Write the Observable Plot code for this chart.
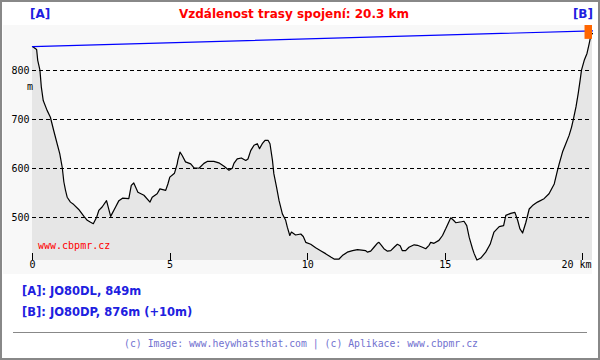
<!DOCTYPE html>
<html>
<head>
<meta charset="utf-8">
<script src="https://cdn.jsdelivr.net/npm/d3@7"></script>
<script src="https://cdn.jsdelivr.net/npm/@observablehq/plot@0.6"></script>
<style>
  body { margin: 0; background: #fff; }
  #wrap { position: relative; width: 600px; height: 360px; overflow: hidden; background: #fff; }
  .t { position: absolute; white-space: nowrap; line-height: 16px; }
  .b { font-family: "DejaVu Sans", sans-serif; font-weight: bold; }
</style>
</head>
<body>
<div id="wrap">
  <div style="position:absolute;left:3px;top:25px;width:589px;height:249px;background:#f8f8f8"></div>
  <div id="chart" style="position:absolute;left:0;top:0"></div>
  <div id="ta" class="t b" style="left:30px;top:6px;font-size:12px;color:#2020e0"></div>
  <div id="title" class="t b" style="left:294px;top:6px;transform:translateX(-50%);font-size:12px;color:#ff0000"></div>
  <div id="tb" class="t b" style="right:7px;top:6px;font-size:12px;color:#2020e0"></div>
  <div id="infoA" class="t b" style="left:22px;top:283px;font-size:11.5px;color:#2020e0"></div>
  <div id="infoB" class="t b" style="left:22px;top:304px;font-size:11.5px;color:#2020e0"></div>
  <div style="position:absolute;left:13px;top:332px;width:574px;height:1px;background:#888"></div>
  <div id="foot" class="t" style="left:301px;top:336px;transform:translateX(-50%);font-family:'DejaVu Sans Mono',monospace;font-size:9.8px;color:#7272d0"></div>
  <div style="position:absolute;left:0;top:0;width:600px;height:360px;box-sizing:border-box;border:2px solid #888"></div>
</div>
<script>
const titleText = "Vzdálenost trasy spojení: 20.3 km";
const labelA = "[A]";
const labelB = "[B]";
const infoA = "[A]: JO80DL, 849m";
const infoB = "[B]: JO80DP, 876m (+10m)";
const footer = "(c) Image: www.heywhatsthat.com | (c) Aplikace: www.cbpmr.cz";
const watermark = "www.cbpmr.cz";

const xTicks = [0, 5, 10, 15, 20];
const xUnit = "km";
const yTicks = [500, 600, 700, 800];
const yUnit = "m";
const xDomain = [0, 20.35];
const yDomain = [413, 892];

const dist = [0, 0.15, 0.19, 0.27, 0.32, 0.39, 0.53, 0.65, 0.77, 0.90,
  0.99, 1.08, 1.14, 1.20, 1.26, 1.38, 1.50, 1.68, 1.87, 1.99,
  2.11, 2.21, 2.33, 2.41, 2.53, 2.69, 2.84, 3.02, 3.14, 3.27,
  3.50, 3.59, 3.68, 3.83, 4.05, 4.27, 4.35, 4.53, 4.63, 4.84,
  4.92, 4.99, 5.16, 5.26, 5.28, 5.36, 5.44, 5.56, 5.75, 5.87,
  6.05, 6.23, 6.35, 6.59, 6.77, 6.96, 7.14, 7.26, 7.32, 7.44,
  7.59, 7.75, 7.83, 7.93, 8.05, 8.17, 8.25, 8.35, 8.45, 8.56,
  8.63, 8.72, 8.77, 8.87, 8.96, 9.08, 9.20, 9.26, 9.35, 9.41,
  9.56, 9.75, 9.84, 9.93, 10.11, 10.29, 10.47, 10.65, 10.84, 10.96,
  11.14, 11.26, 11.44, 11.63, 11.81, 12.11, 12.17, 12.29, 12.41, 12.53,
  12.59, 12.68, 12.77, 12.90, 13.02, 13.16, 13.26, 13.36, 13.44, 13.56,
  13.68, 13.87, 13.99, 14.17, 14.29, 14.41, 14.47, 14.59, 14.77, 14.90,
  15.02, 15.10, 15.20, 15.30, 15.38, 15.59, 15.68, 15.78, 15.87, 15.99,
  16.05, 16.15, 16.29, 16.47, 16.63, 16.77, 16.96, 17.12, 17.20, 17.38,
  17.53, 17.63, 17.71, 17.81, 17.93, 18.05, 18.17, 18.35, 18.59, 18.77,
  18.96, 19.08, 19.14, 19.26, 19.38, 19.50, 19.59, 19.66, 19.75, 19.83,
  19.90, 19.95, 20.05, 20.15, 20.23, 20.29, 20.35];
const elev = [849, 843, 821, 801, 767, 739, 719, 705, 678, 650,
  631, 603, 573, 556, 542, 532, 527, 517, 503, 495,
  491, 488, 501, 515, 522, 535, 503, 522, 535, 540,
  539, 566, 571, 552, 546, 532, 542, 549, 559, 556,
  569, 583, 591, 610, 617, 634, 627, 614, 610, 602,
  601, 611, 615, 615, 612, 605, 597, 601, 611, 620,
  622, 617, 620, 637, 648, 651, 641, 651, 658, 658,
  651, 617, 590, 562, 535, 508, 495, 481, 464, 471,
  465, 467, 462, 450, 446, 439, 433, 427, 420, 416,
  416, 423, 430, 433, 435, 433, 430, 432, 440, 448,
  450, 444, 437, 432, 433, 441, 446, 443, 433, 433,
  440, 445, 444, 440, 437, 444, 450, 448, 454, 464,
  478, 488, 500, 495, 490, 492, 493, 484, 460, 437,
  427, 414, 418, 430, 446, 471, 482, 484, 505, 509,
  511, 495, 478, 469, 491, 518, 525, 532, 539, 549,
  569, 597, 610, 634, 651, 668, 685, 702, 726, 753,
  780, 801, 821, 835, 855, 872, 876];

const losDist = [0, 20.35];
const losElev = [849, 881];

const profile = dist.map((d, i) => ({d, e: elev[i]}));
const los = losDist.map((d, i) => ({d, e: losElev[i]}));
const endB = [los[los.length - 1]];

const mono = "DejaVu Sans Mono, monospace";

const chart = Plot.plot({
  width: 600,
  height: 360,
  marginLeft: 32,
  marginRight: 8,
  marginTop: 25,
  marginBottom: 100,
  x: {domain: xDomain, axis: null},
  y: {domain: yDomain, axis: null},
  style: {background: "transparent", fontFamily: mono, fontSize: "10px", overflow: "visible"},
  marks: [
    Plot.areaY(profile, {x: "d", y1: yDomain[0], y2: "e", fill: "#e6e6e6"}),
    Plot.ruleY(yTicks, {stroke: "#000", strokeWidth: 1, strokeDasharray: "4,3", shapeRendering: "crispEdges"}),
    Plot.lineY(profile, {x: "d", y: "e", stroke: "#000", strokeWidth: 1.2}),
    Plot.line(los, {x: "d", y: "e", stroke: "#0000ff", strokeWidth: 1.2}),
    Plot.dot(endB, {x: "d", y: "e", symbol: "square", r: 9, fill: "#ff6600", clip: true}),
    Plot.ruleX(xTicks, {stroke: "#000", strokeWidth: 1, insetTop: 228, shapeRendering: "crispEdges"}),
    Plot.text(xTicks.slice(0, -1), {x: d => d, text: d => String(d), frameAnchor: "bottom", dy: 7, fill: "#000", fontFamily: mono, fontSize: 10}),
    Plot.text([xTicks[xTicks.length - 1] + " " + xUnit], {x: xDomain[1], text: d => d, frameAnchor: "bottom", dy: 7, dx: -1, textAnchor: "end", fill: "#000", fontFamily: mono, fontSize: 10}),
    Plot.text(yTicks, {y: d => d, text: d => String(d), frameAnchor: "left", textAnchor: "end", dx: -3, fill: "#000", fontFamily: mono, fontSize: 10}),
    Plot.text([yUnit], {y: yTicks[yTicks.length - 1], text: d => d, frameAnchor: "left", dx: -5.5, dy: 16.5, fill: "#000", fontFamily: mono, fontSize: 10}),
    Plot.text([watermark], {text: d => d, frameAnchor: "bottom-left", dx: 5.5, dy: -12, textAnchor: "start", fill: "#ff0000", fontFamily: mono, fontSize: 10})
  ]
});
document.getElementById("chart").appendChild(chart);
document.getElementById("ta").textContent = labelA;
document.getElementById("tb").textContent = labelB;
document.getElementById("title").textContent = titleText;
document.getElementById("infoA").textContent = infoA;
document.getElementById("infoB").textContent = infoB;
document.getElementById("foot").textContent = footer;
</script>
</body>
</html>
